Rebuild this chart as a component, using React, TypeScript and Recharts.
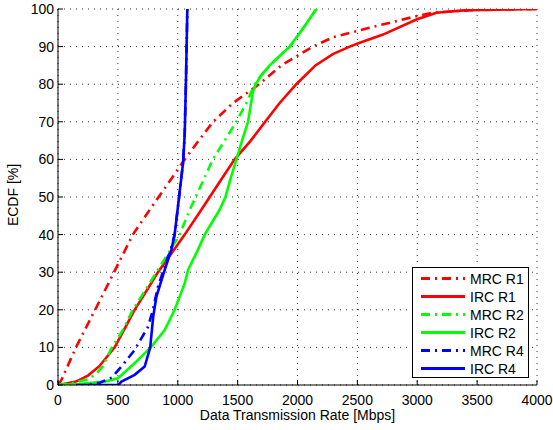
import React from 'react';
import { LineChart, Line, XAxis, YAxis, CartesianGrid, Legend } from 'recharts';

const xTicks = [0, 500, 1000, 1500, 2000, 2500, 3000, 3500, 4000];
const yTicks = [0, 10, 20, 30, 40, 50, 60, 70, 80, 90, 100];

const mrcR1Rate = [0, 28, 150, 310, 468, 625, 766, 840, 950, 1058, 1175, 1295, 1462, 1680, 1865, 2127, 2298, 2600, 2853, 2993, 3130, 3450, 4000];
const mrcR1Cdf = [0, 1.3, 10, 20, 30, 40, 46.6, 50, 55, 60, 65, 70, 75, 80, 85, 90, 92.5, 95, 97, 98.1, 99, 99.7, 100];

const ircR1Rate = [0, 150, 250, 345, 473, 557, 640, 738, 834, 947, 1058, 1197, 1267, 1370, 1475, 1610, 1730, 1851, 1990, 2150, 2295, 2436, 2520, 2714, 2993, 3160, 3410, 4000];
const ircR1Cdf = [0, 0.9, 2.5, 5, 10, 15, 20, 25, 30, 35, 40, 46.6, 50, 55, 60, 65, 70, 75, 80, 85, 88, 90, 91, 93.2, 97.2, 99, 99.7, 100];

const mrcR2Rate = [0, 120, 250, 320, 375, 450, 540, 625, 725, 822, 920, 1016, 1100, 1150, 1222, 1293, 1392, 1489, 1573, 1643, 1700, 1768, 1850, 1935, 2050, 2157];
const mrcR2Cdf = [0, 0.5, 1.5, 3, 5, 10, 14.5, 20, 25, 30, 35, 40, 46.6, 50, 55, 60, 65, 70, 75, 80, 82.5, 85, 87.5, 90, 95, 100];

const ircR2Rate = [0, 200, 390, 500, 640, 780, 891, 974, 1058, 1086, 1169, 1225, 1350, 1398, 1442, 1490, 1537, 1587, 1628, 1651, 1700, 1768, 1850, 1935, 2050, 2157];
const ircR2Cdf = [0, 0.3, 0.9, 1.8, 5.8, 10.2, 14.6, 20, 27, 30.6, 36, 40, 46.6, 50, 55, 60, 65, 70, 78, 80, 82.5, 85, 87.5, 90, 95, 100];

const mrcR4Rate = [150, 250, 349, 450, 529, 640, 752, 793, 835, 863, 918, 933, 974, 1002, 1044, 1058, 1068, 1080];
const mrcR4Cdf = [0, 0, 0.6, 2, 4.9, 9.3, 15.5, 20, 26.2, 28.8, 34.2, 35, 40, 47.5, 59, 66.6, 80, 100];

const ircR4Rate = [220, 505, 530, 640, 724, 770, 795, 822, 891, 947, 974, 1002, 1044, 1058, 1068, 1080];
const ircR4Cdf = [0, 0, 0.9, 2.7, 4.9, 10, 18.2, 23.5, 30.6, 36, 40, 47.5, 59, 66.6, 80, 100];

const seriesNames = ['MRC R1', 'IRC R1', 'MRC R2', 'IRC R2', 'MRC R4', 'IRC R4'];

const zip = (xs: number[], ys: number[]) => xs.map((x, i) => ({ x, y: ys[i] }));

const DASHDOT = '9 5 2 5';
const FONT = '"Liberation Sans", Arial, Helvetica, sans-serif';

const series = [
  { name: seriesNames[0], data: zip(mrcR1Rate, mrcR1Cdf), color: '#ff0000', dash: DASHDOT },
  { name: seriesNames[1], data: zip(ircR1Rate, ircR1Cdf), color: '#ff0000', dash: undefined },
  { name: seriesNames[2], data: zip(mrcR2Rate, mrcR2Cdf), color: '#00ff00', dash: DASHDOT },
  { name: seriesNames[3], data: zip(ircR2Rate, ircR2Cdf), color: '#00ff00', dash: undefined },
  { name: seriesNames[4], data: zip(mrcR4Rate, mrcR4Cdf), color: '#0000ff', dash: DASHDOT },
  { name: seriesNames[5], data: zip(ircR4Rate, ircR4Cdf), color: '#0000ff', dash: undefined },
];

const XTick = (props: any) => {
  const { x, y, payload } = props;
  return (
    <g>
      <line x1={x} y1={y} x2={x} y2={y - 5} stroke="#000" strokeWidth={1} />
      <text x={x} y={y + 20} textAnchor="middle" fontSize={14} fontFamily={FONT} fill="#000">
        {payload.value}
      </text>
    </g>
  );
};

const YTick = (props: any) => {
  const { x, y, payload } = props;
  return (
    <g>
      <line x1={x} y1={y} x2={x + 5} y2={y} stroke="#000" strokeWidth={1} />
      <text x={x - 4} y={y + 5} textAnchor="end" fontSize={14} fontFamily={FONT} fill="#000">
        {payload.value}
      </text>
    </g>
  );
};

const LegendBox = () => (
  <div style={{ border: '1px solid #000', background: '#fff', width: 115, height: 109, boxSizing: 'content-box' }}>
    <svg width={115} height={109}>
      {series.map((s, i) => {
        const cy = 10.5 + i * 18;
        return (
          <g key={s.name}>
            <line x1={8} y1={cy} x2={52} y2={cy} stroke={s.color} strokeWidth={2.8} strokeDasharray={s.dash} />
            <text x={57} y={cy + 5} fontSize={14} fontFamily={FONT} fill="#000">
              {s.name}
            </text>
          </g>
        );
      })}
    </svg>
  </div>
);

export default function App() {
  return (
    <div style={{ position: 'absolute', left: 0, top: 0, background: '#fff' }}>
      <LineChart width={553} height={430} margin={{ top: 9, right: 16, bottom: 0, left: 0 }}>
        <CartesianGrid stroke="#333" strokeDasharray="1 5" strokeWidth={1} />
        <XAxis
          dataKey="x"
          type="number"
          domain={[0, 4000]}
          ticks={xTicks}
          allowDataOverflow
          height={45}
          tickSize={0}
          tickMargin={0}
          tickLine={false}
          axisLine={{ stroke: '#000', strokeWidth: 1 }}
          tick={<XTick />}
          interval={0}
          label={{ value: 'Data Transmission Rate [Mbps]', position: 'insideBottom', offset: 10, fontSize: 14, fontFamily: FONT, fill: '#000' }}
        />
        <YAxis
          type="number"
          domain={[0, 100]}
          ticks={yTicks}
          allowDataOverflow
          width={58}
          tickSize={0}
          tickMargin={0}
          tickLine={false}
          axisLine={{ stroke: '#000', strokeWidth: 1 }}
          tick={<YTick />}
          interval={0}
          label={{ value: 'ECDF [%]', angle: -90, position: 'center', dx: -15.5, dy: -2, fontSize: 14, fontFamily: FONT, fill: '#000' }}
        />
        <Legend
          layout="horizontal"
          verticalAlign="middle"
          align="center"
          content={() => <LegendBox />}
          wrapperStyle={{ position: 'absolute', left: 412, top: 267, width: 117, height: 111 }}
        />
        {series.map((s) => (
          <Line
            key={s.name}
            data={s.data}
            dataKey="y"
            name={s.name}
            type="linear"
            stroke={s.color}
            strokeWidth={2.6}
            strokeDasharray={s.dash}
            dot={false}
            activeDot={false}
            isAnimationActive={false}
          />
        ))}
      </LineChart>
    </div>
  );
}
